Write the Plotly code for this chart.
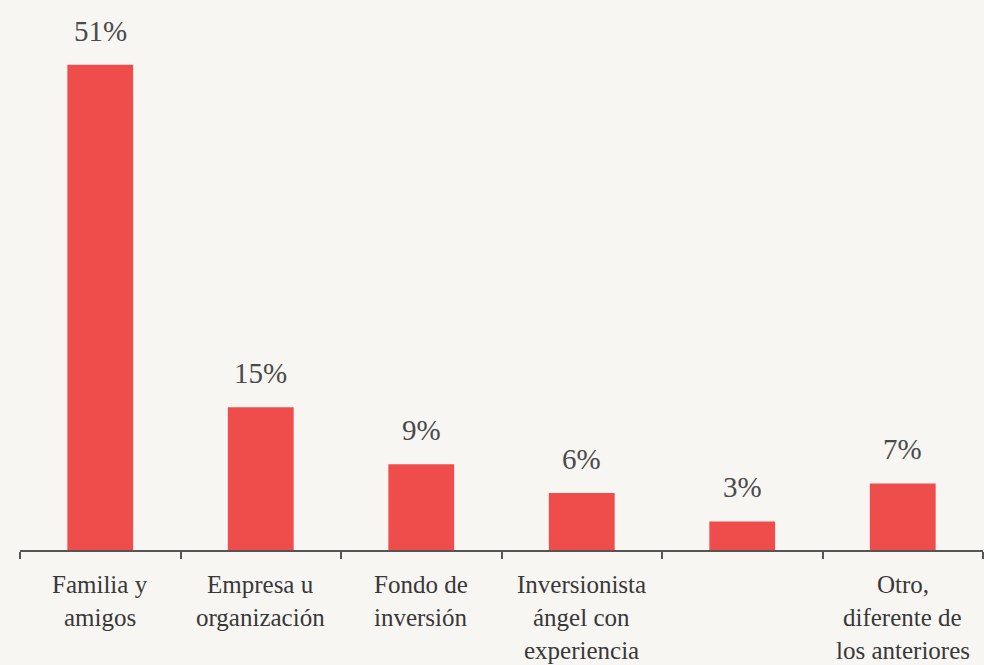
import plotly.graph_objects as go

categories = [
    "Familia y<br>amigos",
    "Empresa u<br>organización",
    "Fondo de<br>inversión",
    "Inversionista<br>ángel con<br>experiencia",
    "",
    "Otro,<br>diferente de<br>los anteriores",
]
values = [51, 15, 9, 6, 3, 7]
value_labels = ["51%", "15%", "9%", "6%", "3%", "7%"]

positions = list(range(len(categories)))
FONT = "Liberation Serif, DejaVu Serif, serif"
BAR = "#EF4D4B"
BG = "#F8F6F3"

fig = go.Figure()
fig.add_trace(go.Bar(
    x=positions, y=values,
    marker=dict(color=BAR, line=dict(width=0)),
    width=0.41,
    hoverinfo="skip",
))

annotations = []
for xi, v, lab in zip(positions, values, value_labels):
    annotations.append(dict(
        x=xi, y=v, xref="x", yref="y", text=lab, showarrow=False,
        yanchor="middle", yshift=34,
        font=dict(family=FONT, size=29, color="#4a4a4a"),
    ))
for xi, cat in zip(positions, categories):
    if not cat:
        continue
    for i, line in enumerate(cat.split("<br>")):
        annotations.append(dict(
            x=xi, y=0, xref="x", yref="y", text=line, showarrow=False,
            yanchor="middle", yshift=-(34 + 33 * i),
            font=dict(family=FONT, size=25, color="#383838"),
        ))

boundaries = [p - 0.5 for p in positions] + [positions[-1] + 0.5]

fig.update_layout(
    width=984, height=665,
    margin=dict(l=20, r=1, t=0, b=115),
    paper_bgcolor=BG, plot_bgcolor=BG,
    showlegend=False,
    annotations=annotations,
    xaxis=dict(
        range=[-0.5, len(categories) - 0.5],
        tickvals=boundaries, ticktext=[""] * len(boundaries),
        ticks="outside", ticklen=7, tickwidth=2, tickcolor="#555555",
        showline=True, linecolor="#555555", linewidth=2,
        showgrid=False, zeroline=False, fixedrange=True,
    ),
    yaxis=dict(
        range=[0, 57.8], visible=False, showgrid=False, zeroline=False,
        fixedrange=True,
    ),
)

fig.write_html("out.html")
